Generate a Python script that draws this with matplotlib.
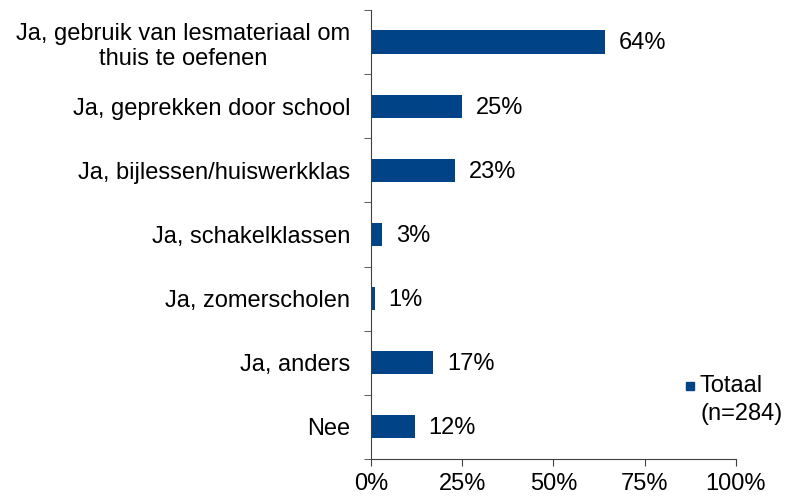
import matplotlib.pyplot as plt
from matplotlib.lines import Line2D

plt.rcParams['font.family'] = ['Liberation Sans', 'DejaVu Sans']

categories = ["Ja, gebruik van lesmateriaal om\nthuis te oefenen",
              "Ja, geprekken door school",
              "Ja, bijlessen/huiswerkklas",
              "Ja, schakelklassen",
              "Ja, zomerscholen",
              "Ja, anders",
              "Nee"]
values = [64, 25, 23, 3, 1, 17, 12]
xticks = [0, 25, 50, 75, 100]
xticklabels = ["0%", "25%", "50%", "75%", "100%"]
color = "#004387"
fs = 17

fig = plt.figure(figsize=(7.88, 4.98), dpi=100)
ax = fig.add_axes([0.4708, 0.0783, 0.4632, 0.9017])

n = len(categories)
ypos = list(range(n))
ax.barh(ypos, values, height=0.36, color=color)
for y, v in zip(ypos, values):
    ax.annotate(f"{v}%", (v, y), xytext=(10, -1), textcoords="offset points",
                va="center", ha="left", fontsize=fs)

ax.set_xlim(0, 100)
ax.set_ylim(n - 0.5, -0.5)
ax.set_xticks(xticks)
ax.set_xticklabels(xticklabels, fontsize=fs)
ax.set_yticks(ypos)
ax.set_yticklabels(categories, fontsize=fs, multialignment="center")
ax.tick_params(axis="y", length=0, pad=15)
ax.set_yticks([i - 0.5 for i in range(n + 1)], minor=True)
ax.tick_params(axis="y", which="minor", length=5, direction="out", color="#404040")
ax.tick_params(axis="x", length=5, direction="out", color="#404040", pad=5)
for s in ["top", "right"]:
    ax.spines[s].set_visible(False)
for s in ["left", "bottom"]:
    ax.spines[s].set_color("#404040")

# legend: square marker next to first line of label
fig.add_artist(Line2D([690 / 788], [1 - 386 / 498], marker="s", linestyle="none",
                      color=color, markersize=6, transform=fig.transFigure))
fig.text(700 / 788, 1 - 386 / 498, "Totaal", fontsize=fs, va="center", ha="left")
fig.text(700 / 788, 1 - 414 / 498, "(n=284)", fontsize=fs, va="center", ha="left")

fig.savefig("out.png", dpi=100)
